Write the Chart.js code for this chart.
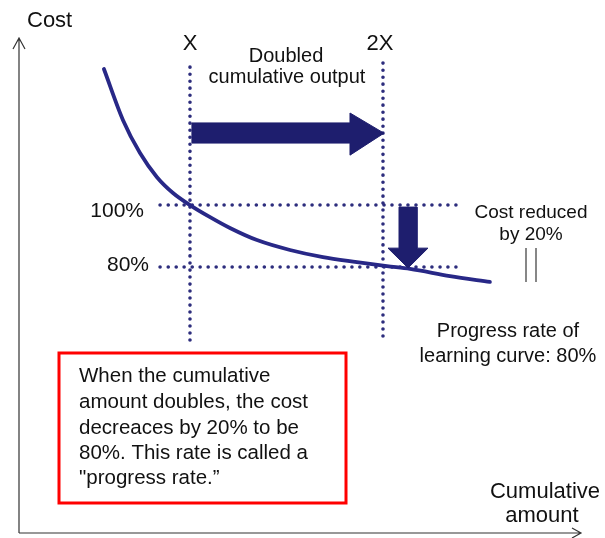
<!DOCTYPE html>
<html>
<head>
<meta charset="utf-8">
<script src="https://cdn.jsdelivr.net/npm/chart.js@4/dist/chart.umd.min.js"></script>
<style>
  html, body { margin: 0; padding: 0; background: #ffffff; }
  #wrap { width: 605px; height: 538px; position: relative; }
</style>
</head>
<body>
<div id="wrap"><canvas id="c"></canvas></div>
<script>
// ---- data (x in multiples of X, y in % of cost at X) ----
const curveX = [0.554, 0.653, 0.741, 0.829, 0.912, 1.0, 1.104, 1.207, 1.347, 1.518, 1.689, 1.865, 2.02, 2.14, 2.347, 2.554];
const curveY = [143.9, 127.4, 116.8, 109.0, 103.9, 100, 96.1, 92.6, 88.7, 85.5, 83.2, 81.6, 80.3, 79.4, 77.1, 75.2];

const xTickValues = [1, 2];
const xTickLabels = ['X', '2X'];
const yTickValues = [100, 80];
const yTickLabels = ['100%', '80%'];

// guide (dotted) line extents
const vGuideTop = [144.5, 145.8];
const vGuideBottom = [55.5, 56.5];
const hGuideStart = [0.845, 0.845];
const hGuideEnd = [2.415, 2.415];

// arrow outlines
const rightArrowX = [1.01, 1.829, 1.829, 2.005, 1.829, 1.829, 1.01, 1.01];
const rightArrowY = [126.5, 126.5, 129.7, 123.2, 116.1, 120.0, 120.0, 126.5];
const downArrowX = [2.083, 2.176, 2.176, 2.233, 2.13, 2.026, 2.083, 2.083];
const downArrowY = [99.35, 99.35, 86.1, 86.1, 79.7, 86.1, 86.1, 99.35];

const NAVY = 'rgb(40,40,135)';
const ARROW = 'rgb(30,30,110)';
const DOT = 'rgb(45,45,125)';
const FONT = '"Liberation Sans", Arial, sans-serif';

function pts(xs, ys) { return xs.map((x, i) => ({ x: x, y: ys[i] })); }

const datasets = [];
datasets.push({ data: pts(downArrowX, downArrowY), borderColor: ARROW, backgroundColor: ARROW, borderWidth: 1, fill: 'shape', tension: 0, pointRadius: 0 });
datasets.push({ data: pts(rightArrowX, rightArrowY), borderColor: ARROW, backgroundColor: ARROW, borderWidth: 1, fill: 'shape', tension: 0, pointRadius: 0 });
datasets.push({ data: pts(curveX, curveY), borderColor: NAVY, borderWidth: 3.8, fill: false, cubicInterpolationMode: 'monotone', pointRadius: 0, borderCapStyle: 'round' });
xTickValues.forEach((v, i) => {
  datasets.push({ data: [{ x: v, y: vGuideTop[i] }, { x: v, y: vGuideBottom[i] }], borderColor: DOT, borderWidth: 3.6, borderDash: [0, 7], borderCapStyle: 'round', fill: false, pointRadius: 0 });
});
yTickValues.forEach((v, i) => {
  datasets.push({ data: [{ x: hGuideStart[i], y: v }, { x: hGuideEnd[i], y: v }], borderColor: DOT, borderWidth: 3.6, borderDash: [0, 8], borderCapStyle: 'round', fill: false, pointRadius: 0 });
});

const texts = [
  { t: 'Cost', x: 27, y: 27, size: 22, align: 'left' },
  { t: 'Doubled', x: 286, y: 62, size: 20, align: 'center' },
  { t: 'cumulative output', x: 287, y: 83, size: 20, align: 'center' },
  { t: 'Cost reduced', x: 531, y: 218, size: 19, align: 'center' },
  { t: 'by 20%', x: 531, y: 240, size: 19, align: 'center' },
  { t: 'Progress rate of', x: 508, y: 337, size: 20, align: 'center' },
  { t: 'learning curve: 80%', x: 508, y: 362, size: 20, align: 'center' },
  { t: 'When the cumulative', x: 79, y: 382, size: 20.5, align: 'left' },
  { t: 'amount doubles, the cost', x: 79, y: 408, size: 20.5, align: 'left' },
  { t: 'decreaces by 20% to be', x: 79, y: 434, size: 20.5, align: 'left' },
  { t: '80%. This rate is called a', x: 79, y: 459, size: 20.5, align: 'left' },
  { t: '"progress rate.\u201D', x: 79, y: 484, size: 20.5, align: 'left' },
  { t: 'Cumulative', x: 545, y: 498, size: 22, align: 'center' },
  { t: 'amount', x: 542, y: 522, size: 22, align: 'center' }
];

const decor = {
  id: 'decor',
  beforeDatasetsDraw(chart) {
    const ctx = chart.ctx, a = chart.chartArea;
    ctx.save();
    ctx.strokeStyle = '#333';
    ctx.lineWidth = 1.2;
    ctx.beginPath();
    ctx.moveTo(a.left, a.bottom); ctx.lineTo(a.left, a.top);
    ctx.moveTo(a.left - 6, a.top + 11); ctx.lineTo(a.left, a.top); ctx.lineTo(a.left + 6, a.top + 11);
    ctx.moveTo(a.left, a.bottom); ctx.lineTo(a.right, a.bottom);
    ctx.moveTo(a.right - 9, a.bottom - 5); ctx.lineTo(a.right, a.bottom); ctx.lineTo(a.right - 9, a.bottom + 5);
    ctx.stroke();
    ctx.restore();
  },
  afterDatasetsDraw(chart) {
    const ctx = chart.ctx;
    const xs = chart.scales.x, ys = chart.scales.y;
    ctx.save();
    ctx.fillStyle = '#111';
    ctx.textBaseline = 'alphabetic';
    xTickValues.forEach((v, i) => {
      ctx.font = '22px ' + FONT;
      ctx.textAlign = 'center';
      ctx.fillText(xTickLabels[i], xs.getPixelForValue(v) - (i === 1 ? 3 : 0), 50);
    });
    const yOff = [12, 4];
    const xRight = [144, 149];
    yTickValues.forEach((v, i) => {
      ctx.font = '21px ' + FONT;
      ctx.textAlign = 'right';
      ctx.fillText(yTickLabels[i], xRight[i], ys.getPixelForValue(v) + yOff[i]);
    });
    texts.forEach(o => {
      ctx.font = o.size + 'px ' + FONT;
      ctx.textAlign = o.align;
      ctx.fillText(o.t, o.x, o.y);
    });
    ctx.strokeStyle = '#555';
    ctx.lineWidth = 1.4;
    ctx.beginPath();
    ctx.moveTo(526, 248); ctx.lineTo(526, 282);
    ctx.moveTo(536, 248); ctx.lineTo(536, 282);
    ctx.stroke();
    ctx.strokeStyle = '#ff0000';
    ctx.lineWidth = 3;
    ctx.strokeRect(59, 353, 287, 150);
    ctx.restore();
  }
};

new Chart(document.getElementById('c'), {
  type: 'line',
  data: { datasets: datasets },
  options: {
    responsive: true,
    maintainAspectRatio: false,
    animation: false,
    layout: { padding: { left: 19, top: 38, right: 24, bottom: 5 } },
    plugins: { legend: { display: false }, tooltip: { enabled: false } },
    scales: {
      x: { type: 'linear', display: false, min: 0.114, max: 3.026 },
      y: { type: 'linear', display: false, min: -5.8, max: 153.9 }
    },
    elements: { line: { tension: 0.4 } }
  },
  plugins: [decor]
});
</script>
</body>
</html>
